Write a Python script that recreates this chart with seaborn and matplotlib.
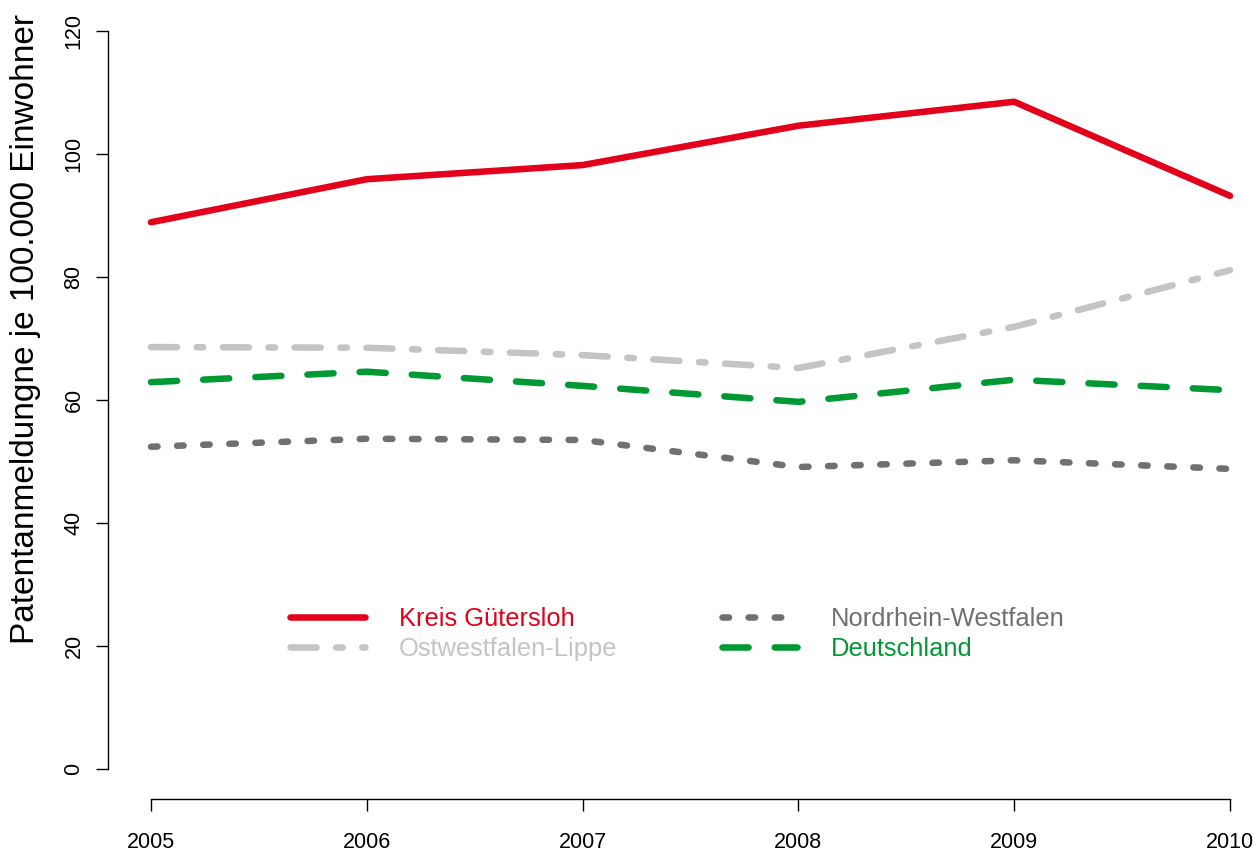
import pandas as pd
import matplotlib.pyplot as plt
import seaborn as sns

sns.set_style('ticks', {'axes.edgecolor': 'black', 'text.color': 'black',
                        'xtick.color': 'black', 'ytick.color': 'black',
                        'axes.labelcolor': 'black'})
plt.rcParams['font.family'] = ['Liberation Sans', 'DejaVu Sans']

# Daten
jahre = [2005, 2006, 2007, 2008, 2009, 2010]
guetersloh = [88.9, 95.9, 98.2, 104.6, 108.5, 93.2]
owl = [68.6, 68.5, 67.3, 65.2, 71.9, 81.1]
nrw = [52.4, 53.7, 53.5, 49.1, 50.2, 48.8]
deutschland = [62.9, 64.6, 62.3, 59.7, 63.3, 61.6]

namen = ['Kreis Gütersloh', 'Ostwestfalen-Lippe', 'Nordrhein-Westfalen', 'Deutschland']
werte = [guetersloh, owl, nrw, deutschland]
farben = ['#E3001B', '#C4C4C4', '#707070', '#009933']
stile = ['-', (0, (4, 3, 1, 3)), (0, (1, 3)), (0, (4, 4))]

W, H = 1256, 851
fig = plt.figure(figsize=(W / 100, H / 100), dpi=100)
# Achsenbereich in Pixeln: links 107, unten 799, oben 1.5
x0, x1 = 107.8, W
y_top, y_bot = 1.5, 798.5
ax = fig.add_axes([x0 / W, 1 - y_bot / H, (x1 - x0) / W, (y_bot - y_top) / H])

for name, w, f, s in zip(namen, werte, farben, stile):
    df = pd.DataFrame({'jahr': jahre, 'wert': w})
    sns.lineplot(data=df, x='jahr', y='wert', ax=ax, color=f, linestyle=s,
                 linewidth=4.7, label=name, dash_capstyle='round',
                 solid_capstyle='round')

px_per_year = (1230 - 151) / 5
ax.set_xlim(2005 - (151 - x0) / px_per_year, 2005 + (x1 - 151) / px_per_year)
ax.set_ylim(-4.8, 124.8)

ax.spines['top'].set_visible(False)
ax.spines['right'].set_visible(False)
ax.spines['left'].set_bounds(0, 120)
ax.spines['bottom'].set_bounds(2005, 2010)
for sp in ['left', 'bottom']:
    ax.spines[sp].set_linewidth(1.0)

ax.set_xticks(jahre)
ax.set_yticks([0, 20, 40, 60, 80, 100, 120])
ax.tick_params(axis='both', length=8.7, width=1.0, labelsize=15.5)
ax.tick_params(axis='y', pad=8)
ax.tick_params(axis='x', pad=15.5)
for lab in ax.get_yticklabels():
    lab.set_rotation(90)
    lab.set_va('center')

ax.set_xlabel('')
ax.set_ylabel('')
fig.text(26 / W, 1 - 329 / H, 'Patentanmeldungne je 100.000 Einwohner',
         rotation=90, ha='center', va='center', fontsize=24)

leg = ax.legend(ncol=2, frameon=False, fontsize=18.4, labelcolor='linecolor',
                handlelength=2.95, handletextpad=1.3, columnspacing=4.1,
                labelspacing=0.25, borderpad=0, borderaxespad=0,
                loc='upper left', bbox_to_anchor=(290 / W, 1 - 607 / H),
                bbox_transform=fig.transFigure)

plt.savefig('out.png', dpi=100)
plt.close()
